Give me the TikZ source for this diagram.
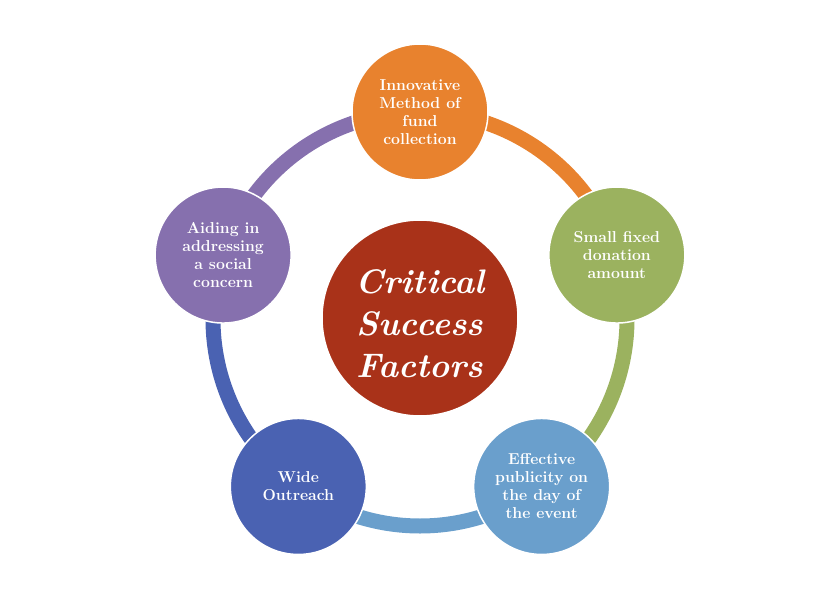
\documentclass[tikz,border=0pt]{standalone}
\usetikzlibrary{backgrounds}

\definecolor{csfred}{HTML}{A93219}
\definecolor{fundorange}{HTML}{E8822E}
\definecolor{donationgreen}{HTML}{9BB25F}
\definecolor{publicityblue}{HTML}{6A9FCC}
\definecolor{outreachblue}{HTML}{4A62B2}
\definecolor{socialpurple}{HTML}{8670AE}

\begin{document}
\begin{tikzpicture}[x=1pt,y=1pt,
  factor/.style={circle,draw=white,line width=1.5pt,minimum size=136pt,inner sep=0pt,
    align=center,text=white,font=\fontsize{15.8}{18}\selectfont\bfseries},
  link/.style={line width=15pt}]
  \useasboundingbox (-420,-279) rectangle (420,319);

  \node[circle,draw=white,line width=1.5pt,fill=csfred,minimum size=196pt] (csf) at (0,1) {};
  \node[align=center,text=white,font=\fontsize{34}{42}\selectfont\bfseries\itshape] (csftitle) at (0,-5) {Critical\\Success\\Factors};

  \node[factor,fill=fundorange] (fund) at (90:207) {Innovative\\Method of\\fund\\collection};
  \node[factor,fill=donationgreen] (donation) at (18:207) {Small fixed\\donation\\amount};
  \node[factor,fill=publicityblue] (publicity) at (-54:207) {Effective\\publicity on\\the day of\\the event};
  \node[factor,fill=outreachblue] (outreach) at (-126:207) {Wide\\Outreach};
  \node[factor,fill=socialpurple] (social) at (162:207) {Aiding in\\addressing\\a social\\concern};

  % ring behind the circles
  \begin{pgfonlayer}{background}
  \draw[link,fundorange] (fund.center) arc[start angle=90,end angle=18,radius=207];
  \draw[link,donationgreen] (donation.center) arc[start angle=18,end angle=-54,radius=207];
  \draw[link,publicityblue] (publicity.center) arc[start angle=-54,end angle=-126,radius=207];
  \draw[link,outreachblue] (outreach.center) arc[start angle=-126,end angle=-198,radius=207];
  \draw[link,socialpurple] (social.center) arc[start angle=162,end angle=90,radius=207];
  \end{pgfonlayer}
\end{tikzpicture}
\end{document}
